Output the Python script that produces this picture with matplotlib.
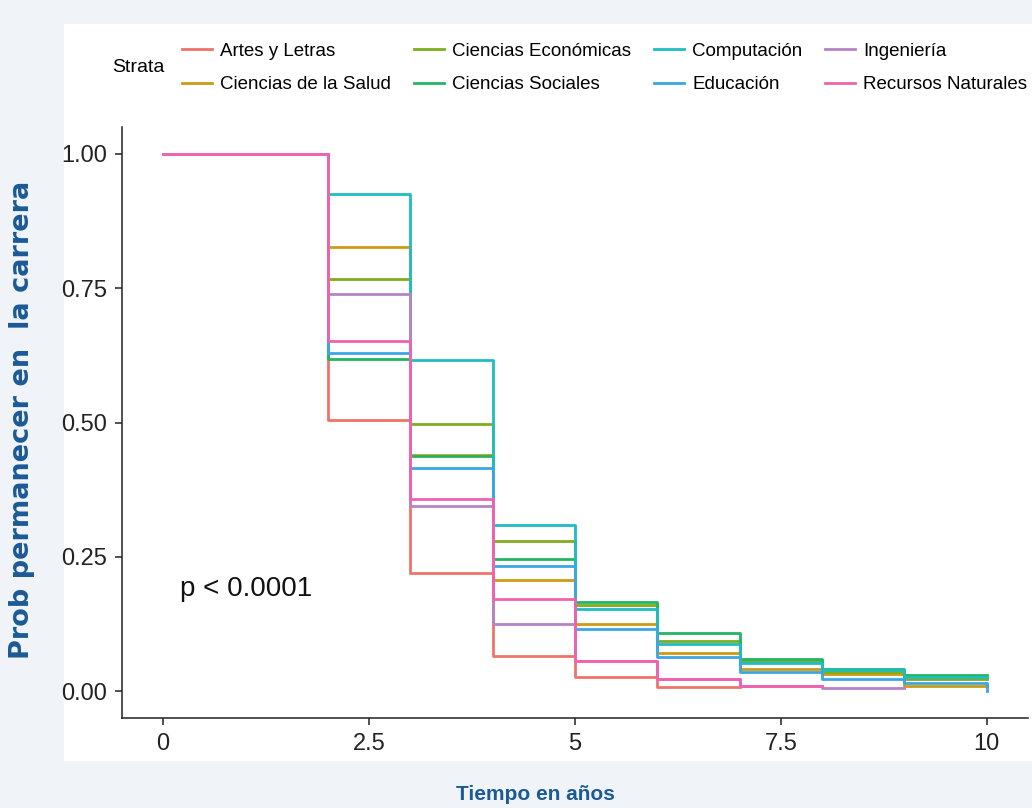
import matplotlib.pyplot as plt
from matplotlib.patches import Rectangle
from matplotlib.lines import Line2D

# Curvas de supervivencia (Kaplan-Meier) por área de estudio
tiempos = [0, 2, 3, 4, 5, 6, 7, 8, 9, 10]

artes = [1.0, 0.505, 0.220, 0.066, 0.026, 0.007]
salud = [1.0, 0.827, 0.440, 0.207, 0.125, 0.071, 0.041, 0.032, 0.010]
economicas = [1.0, 0.767, 0.498, 0.279, 0.160, 0.094, 0.056, 0.036, 0.022]
sociales = [1.0, 0.618, 0.437, 0.246, 0.165, 0.108, 0.060, 0.042, 0.030]
computacion = [1.0, 0.926, 0.616, 0.310, 0.153, 0.087, 0.053, 0.039, 0.026]
educacion = [1.0, 0.630, 0.415, 0.233, 0.116, 0.064, 0.035, 0.023, 0.016, 0.0]
ingenieria = [1.0, 0.739, 0.345, 0.125, 0.057, 0.022, 0.010, 0.005]
recursos = [1.0, 0.652, 0.358, 0.172, 0.057, 0.022, 0.010]

# último tiempo observado de cada curva
fin = [7, 10, 10, 10, 10, 10, 9, 8]

estratos = ["Artes y Letras", "Ciencias de la Salud", "Ciencias Económicas",
            "Ciencias Sociales", "Computación", "Educación", "Ingeniería",
            "Recursos Naturales"]
curvas = [artes, salud, economicas, sociales, computacion, educacion,
          ingenieria, recursos]
colores = ["#f0736a", "#cf9a12", "#7cae1e", "#22b562", "#1fbcc4", "#3aa6e6",
           "#b583c8", "#f062b0"]

fondo = "#f0f3f8"
azul = "#1b5a96"

fig = plt.figure(figsize=(10.32, 8.08), dpi=100, facecolor=fondo)
# panel blanco
fig.patches.append(Rectangle((64 / 1032, 47 / 808), 1 - 64 / 1032, 737 / 808,
                             transform=fig.transFigure, facecolor="white",
                             edgecolor="none", zorder=-5))

ax = fig.add_axes([122 / 1032, (808 - 718) / 808, (1028 - 122) / 1032,
                   (718 - 127) / 808])
ax.set_zorder(2)
ax.set_facecolor("white")

for nombre, vals, f, c in zip(estratos, curvas, fin, colores):
    x = tiempos[:len(vals)]
    y = list(vals)
    if x[-1] < f:
        x = x + [f]
        y = y + [y[-1]]
    ax.step(x, y, where="post", color=c, lw=2.0, label=nombre)

ax.set_xlim(-0.5, 10.5)
ax.set_ylim(-0.05, 1.05)
ax.set_xticks([0, 2.5, 5, 7.5, 10])
ax.set_xticklabels(["0", "2.5", "5", "7.5", "10"])
ax.set_yticks([0, 0.25, 0.5, 0.75, 1.0])
ax.set_yticklabels(["0.00", "0.25", "0.50", "0.75", "1.00"])
for s in ["top", "right"]:
    ax.spines[s].set_visible(False)
for s in ["left", "bottom"]:
    ax.spines[s].set_linewidth(1.1)
    ax.spines[s].set_color("#222222")
ax.tick_params(labelsize=17, colors="#222222", length=5, width=1.1, pad=6)
for t in ax.get_xticklabels() + ax.get_yticklabels():
    t.set_family("Liberation Sans")

ax.text(0.2, 0.19, "p < 0.0001", fontsize=20, family="Liberation Sans",
        color="#111111", va="center")

fig.text(22 / 1032, 1 - 420 / 808, "Prob permanecer en  la carrera",
         rotation=90, ha="center", va="center", fontsize=19.5,
         fontweight="bold", color=azul, family="DejaVu Sans")
fig.text(535 / 1032, 1 - 795 / 808, "Tiempo en años", ha="center",
         va="center", fontsize=15, fontweight="bold", color=azul,
         family="Liberation Sans")

# leyenda
handles = [Line2D([], [], color=c, lw=2) for c in colores]
leg = fig.legend(handles, estratos, ncol=4, loc="center left",
                 bbox_to_anchor=(182 / 1032, 1 - 68 / 808), frameon=False,
                 prop={"family": "Liberation Sans", "size": 13.5},
                 handlelength=1.6, handletextpad=0.45, columnspacing=1.2,
                 labelspacing=0.85, borderaxespad=0, borderpad=0)
fig.text(112 / 1032, 1 - 68 / 808, "Strata", fontsize=14,
         family="Liberation Sans", va="center", ha="left")

fig.savefig("out.png", dpi=100, facecolor=fondo)
